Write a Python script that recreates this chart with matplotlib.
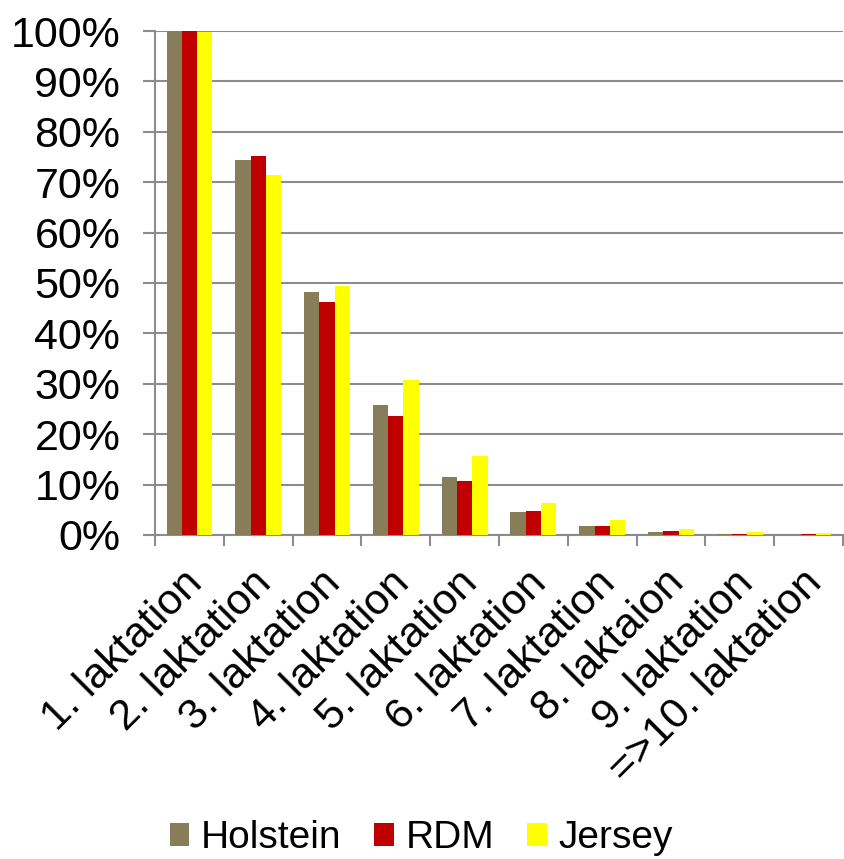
import numpy as np
import matplotlib
matplotlib.use("Agg")
import matplotlib.pyplot as plt
from matplotlib.ticker import PercentFormatter
from matplotlib.transforms import ScaledTranslation

plt.rcParams['font.family'] = ['Liberation Sans', 'DejaVu Sans']

categories = ['1. laktation', '2. laktation', '3. laktation', '4. laktation',
              '5. laktation', '6. laktation', '7. laktation', '8. laktaion',
              '9. laktation', '=>10. laktation']
holstein = [100, 74.5, 48.2, 25.8, 11.5, 4.5, 1.8, 0.5, 0.1, 0.05]
rdm = [100, 75.2, 46.2, 23.6, 10.7, 4.7, 1.7, 0.8, 0.1, 0.1]
jersey = [99.8, 71.4, 49.4, 30.8, 15.7, 6.4, 3.0, 1.1, 0.5, 0.4]

series = [('Holstein', holstein, '#877D58'),
          ('RDM', rdm, '#C00000'),
          ('Jersey', jersey, '#FFFF00')]

fig = plt.figure(figsize=(8.44, 8.59), dpi=100)
ax = fig.add_axes([0.1837, 0.3772, 0.815, 0.5867])

x = np.arange(len(categories))
w = 1 / 4.5
for i, (name, vals, col) in enumerate(series):
    ax.bar(x + (i - 1) * w, vals, w, color=col, label=name, zorder=3)

ax.set_xlim(-0.5, len(categories) - 0.5)
ax.set_ylim(0, 100)
ax.set_yticks(np.arange(0, 101, 10))
ax.yaxis.set_major_formatter(PercentFormatter(decimals=0))
ax.grid(axis='y', color='#8c8c8c', linewidth=1.5, zorder=0)

ax.set_xticks(np.arange(-0.5, len(categories), 1))
ax.set_xticklabels([])
ax.set_xticks(x, minor=True)
ax.set_xticklabels(categories, minor=True, rotation=45, ha='right',
                   rotation_mode='anchor', fontsize=31)
ax.tick_params(axis='x', which='major', length=8, width=1.5, color='#8c8c8c')
ax.tick_params(axis='x', which='minor', length=0, pad=20)
ax.tick_params(axis='y', length=9, width=1.5, color='#8c8c8c', labelsize=31, pad=16)
shift = ScaledTranslation(-0.07, 0, fig.dpi_scale_trans)
for lab in ax.get_xticklabels(minor=True):
    lab.set_transform(lab.get_transform() + shift)

for s in ['top', 'right']:
    ax.spines[s].set_visible(False)
for s in ['left', 'bottom']:
    ax.spines[s].set_color('#8c8c8c')
    ax.spines[s].set_linewidth(1.5)

fig.legend(loc='center', bbox_to_anchor=(0.499, 0.024), ncol=3, frameon=False,
           fontsize=28, handlelength=0.5, handleheight=0.5, handletextpad=0.3,
           columnspacing=0.85, borderpad=0)

fig.savefig('out.png', dpi=100)
